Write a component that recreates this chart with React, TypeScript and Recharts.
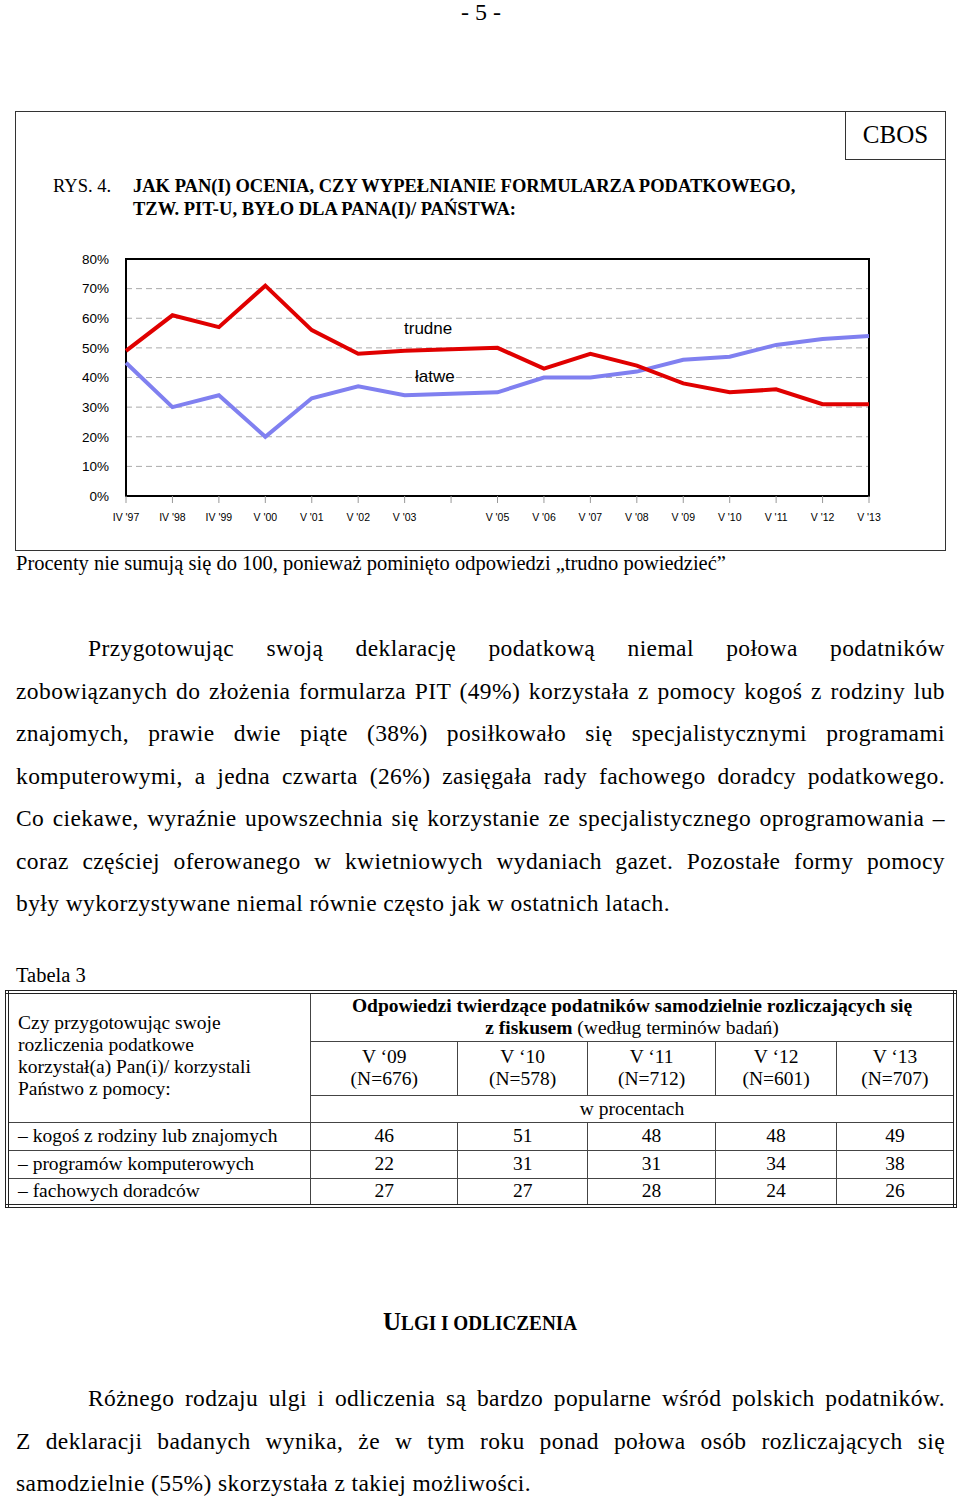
import React from 'react';
import {
  LineChart,
  Line,
  XAxis,
  YAxis,
  CartesianGrid,
  ReferenceArea,
} from 'recharts';

// survey waves (no survey in '04, tick kept without a label)
const categories = [
  "IV '97", "IV '98", "IV '99", "V '00", "V '01", "V '02", "V '03", "V '04",
  "V '05", "V '06", "V '07", "V '08", "V '09", "V '10", "V '11", "V '12", "V '13",
];
const tickLabels = [
  "IV '97", "IV '98", "IV '99", "V '00", "V '01", "V '02", "V '03", '',
  "V '05", "V '06", "V '07", "V '08", "V '09", "V '10", "V '11", "V '12", "V '13",
];
const trudne = [49, 61, 57, 71, 56, 48, 49, null, 50, 43, 48, 44, 38, 35, 36, 31, 31];
const latwe = [45, 30, 34, 20, 33, 37, 34, null, 35, 40, 40, 42, 46, 47, 51, 53, 54];
const yTicks = [0, 10, 20, 30, 40, 50, 60, 70, 80];

// table 3
const tableYears = ['V ‘09', 'V ‘10', 'V ‘11', 'V ‘12', 'V ‘13'];
const tableN = ['(N=676)', '(N=578)', '(N=712)', '(N=601)', '(N=707)'];
const tableRowLabels = [
  '– kogoś z rodziny lub znajomych',
  '– programów komputerowych',
  '– fachowych doradców',
];
const rodzina = [46, 51, 48, 48, 49];
const programy = [22, 31, 31, 34, 38];
const doradcy = [27, 27, 28, 24, 26];

const para1 = [
  'Przygotowując swoją deklarację podatkową niemal połowa podatników',
  'zobowiązanych do złożenia formularza PIT (49%) korzystała z pomocy kogoś z rodziny lub',
  'znajomych, prawie dwie piąte (38%) posiłkowało się specjalistycznymi programami',
  'komputerowymi, a jedna czwarta (26%) zasięgała rady fachowego doradcy podatkowego.',
  'Co ciekawe, wyraźnie upowszechnia się korzystanie ze specjalistycznego oprogramowania –',
  'coraz częściej oferowanego w kwietniowych wydaniach gazet. Pozostałe formy pomocy',
  'były wykorzystywane niemal równie często jak w ostatnich latach.',
];
const para2 = [
  'Różnego rodzaju ulgi i odliczenia są bardzo popularne wśród polskich podatników.',
  'Z deklaracji badanych wynika, że w tym roku ponad połowa osób rozliczających się',
  'samodzielnie (55%) skorzystała z takiej możliwości.',
];

const serif = "'Liberation Serif', 'Times New Roman', serif";
const sans = "'Liberation Sans', Arial, sans-serif";

const chartData = categories.map((cat, i) => ({
  cat,
  trudne: trudne[i],
  latwe: latwe[i],
}));

const Paragraph = ({ lines, top }: { lines: string[]; top: number }) => (
  <div style={{ position: 'absolute', left: 16, top, width: 929, fontFamily: serif, fontSize: 23.5, letterSpacing: 0.4 }}>
    {lines.map((l, i) => (
      <div
        key={i}
        style={{
          height: 42.5,
          lineHeight: '42.5px',
          textAlign: 'justify',
          textAlignLast: i === lines.length - 1 ? 'left' : 'justify',
          paddingLeft: i === 0 ? 72 : 0,
          whiteSpace: 'nowrap',
        }}
      >
        {l}
      </div>
    ))}
  </div>
);

const cell: React.CSSProperties = {
  border: '1px solid #444',
  padding: 0,
  textAlign: 'center',
  verticalAlign: 'middle',
};

const Chart = () => (
  <div style={{ position: 'absolute', left: 0, top: 240 }}>
    <LineChart
      width={900}
      height={300}
      data={chartData}
      margin={{ top: 19, right: 31, left: 66, bottom: 14 }}
    >
      <CartesianGrid
        vertical={false}
        stroke="#aaa"
        strokeDasharray="6 4"
      />
      <XAxis
        dataKey="cat"
        scale="point"
        padding={{ left: 0, right: 0 }}
        interval={0}
        height={30}
        axisLine={false}
        tickSize={7}
        tickMargin={11}
        tickLine={{ stroke: '#999' }}
        tick={{ fontSize: 10.5, fill: '#000', fontFamily: sans }}
        tickFormatter={(_v: string, i: number) => tickLabels[i]}
      />
      <YAxis
        width={60}
        domain={[0, 80]}
        ticks={yTicks}
        axisLine={false}
        tickLine={false}
        tickSize={0}
        tickMargin={17}
        tick={{ fontSize: 13.5, fill: '#000', fontFamily: sans }}
        tickFormatter={(v: number) => `${v}%`}
      />
      <ReferenceArea
        x1={categories[0]}
        x2={categories[categories.length - 1]}
        y1={0}
        y2={80}
        fill="none"
        stroke="#000"
        strokeWidth={2}
        fillOpacity={0}
      />
      <Line
        type="linear"
        dataKey="latwe"
        stroke="#8080f0"
        strokeWidth={4}
        dot={false}
        connectNulls
        isAnimationActive={false}
      />
      <Line
        type="linear"
        dataKey="trudne"
        stroke="#e00000"
        strokeWidth={4}
        dot={false}
        connectNulls
        isAnimationActive={false}
      />
    </LineChart>
    <div style={{ position: 'absolute', left: 404, top: 79, fontFamily: sans, fontSize: 17 }}>trudne</div>
    <div style={{ position: 'absolute', left: 415, top: 127, fontFamily: sans, fontSize: 17 }}>łatwe</div>
  </div>
);

const Table = () => (
  <table
    style={{
      position: 'absolute',
      left: 5,
      top: 990,
      width: 952,
      borderCollapse: 'collapse',
      border: '4px double #222',
      fontFamily: serif,
      fontSize: 19.5,
      lineHeight: '22px',
    }}
  >
    <colgroup>
      <col style={{ width: 305 }} />
      <col style={{ width: 148 }} />
      <col style={{ width: 130 }} />
      <col style={{ width: 129 }} />
      <col style={{ width: 121 }} />
      <col style={{ width: 119 }} />
    </colgroup>
    <tbody>
      <tr style={{ height: 49 }}>
        <td rowSpan={3} style={{ ...cell, textAlign: 'left', paddingLeft: 9, paddingBottom: 3 }}>
          Czy przygotowując swoje<br />rozliczenia podatkowe<br />korzystał(a) Pan(i)/ korzystali<br />Państwo z pomocy:
        </td>
        <td colSpan={5} style={cell}>
          <b>Odpowiedzi twierdzące podatników samodzielnie rozliczających się</b>
          <br />
          <b>z fiskusem</b> (według terminów badań)
        </td>
      </tr>
      <tr style={{ height: 54 }}>
        {tableYears.map((y, i) => (
          <td key={y} style={cell}>
            {y}
            <br />
            {tableN[i]}
          </td>
        ))}
      </tr>
      <tr style={{ height: 27 }}>
        <td colSpan={5} style={cell}>w procentach</td>
      </tr>
      {[rodzina, programy, doradcy].map((vals, r) => (
        <tr key={r} style={{ height: 28 }}>
          <td style={{ ...cell, textAlign: 'left', paddingLeft: 9 }}>{tableRowLabels[r]}</td>
          {vals.map((v, i) => (
            <td key={i} style={cell}>{v}</td>
          ))}
        </tr>
      ))}
    </tbody>
  </table>
);

export default function App() {
  return (
    <div
      style={{
        position: 'absolute',
        left: 0,
        top: 0,
        width: 960,
        height: 1499,
        background: '#fff',
        color: '#000',
        fontFamily: serif,
        overflow: 'hidden',
      }}
    >
      <div style={{ position: 'absolute', left: 0, width: 962, top: 0, textAlign: 'center', fontSize: 24, lineHeight: '24px' }}>
        - 5 -
      </div>

      {/* figure frame */}
      <div style={{ position: 'absolute', left: 15, top: 111, width: 929, height: 438, border: '1px solid #333' }} />
      <div
        style={{
          position: 'absolute',
          left: 845,
          top: 111,
          width: 99,
          height: 48,
          borderLeft: '1px solid #333',
          borderBottom: '1px solid #333',
          textAlign: 'center',
          lineHeight: '48px',
          fontSize: 25,
        }}
      >
        CBOS
      </div>
      <div style={{ position: 'absolute', left: 53, top: 175, fontSize: 18.5, lineHeight: '22px' }}>RYS. 4.</div>
      <div style={{ position: 'absolute', left: 133, top: 175, fontSize: 18.5, lineHeight: '23px', fontWeight: 'bold', whiteSpace: 'nowrap' }}>
        JAK PAN(I) OCENIA, CZY WYPEŁNIANIE FORMULARZA PODATKOWEGO,
        <br />
        TZW. PIT-U, BYŁO DLA PANA(I)/ PAŃSTWA:
      </div>

      <Chart />

      <div style={{ position: 'absolute', left: 16, top: 551, fontSize: 20.5, lineHeight: '24px', whiteSpace: 'nowrap' }}>
        Procenty nie sumują się do 100, ponieważ pominięto odpowiedzi „trudno powiedzieć”
      </div>

      <Paragraph lines={para1} top={627} />

      <div style={{ position: 'absolute', left: 16, top: 962, fontSize: 20.5, lineHeight: '26px' }}>Tabela 3</div>
      <Table />

      <div
        style={{
          position: 'absolute',
          left: 0,
          width: 960,
          top: 1307,
          textAlign: 'center',
          lineHeight: '30px',
          fontWeight: 'bold',
          whiteSpace: 'nowrap',
        }}
      >
        <span style={{ display: 'inline-block', transform: 'scaleX(0.96)' }}>
          <span style={{ fontSize: 26 }}>U</span>
          <span style={{ fontSize: 20 }}>LGI I ODLICZENIA</span>
        </span>
      </div>

      <Paragraph lines={para2} top={1377} />
    </div>
  );
}
